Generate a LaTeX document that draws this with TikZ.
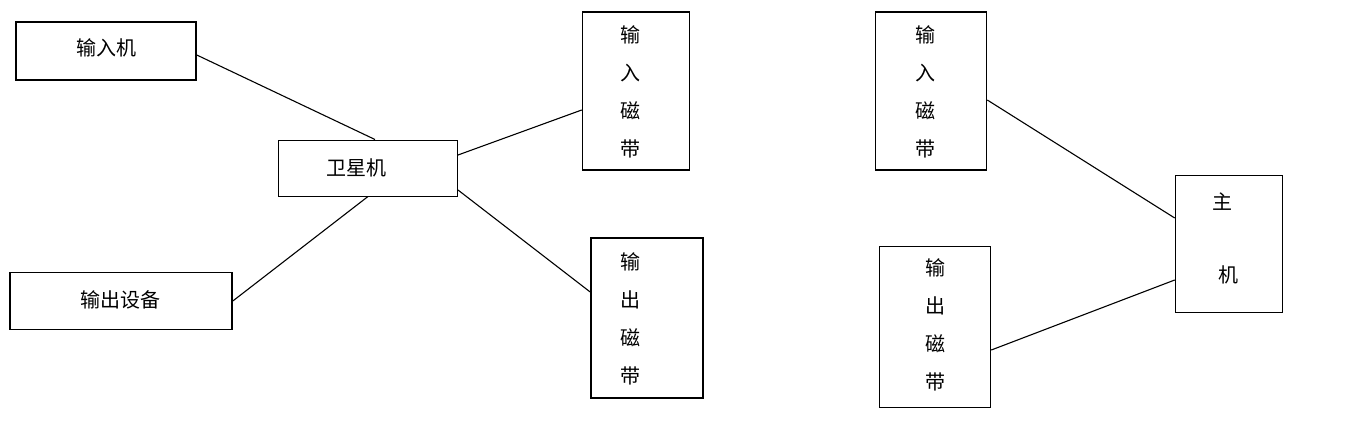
\documentclass[tikz,border=0pt]{standalone}
\usepackage{fontspec}
\setmainfont{Noto Sans CJK SC}[BoldFont={Noto Sans CJK SC Bold}]
\begin{document}
\begin{tikzpicture}[x=1pt,y=-1pt,
 box/.style={draw,line width=1.6pt,inner sep=0pt},
 lbl/.style={font=\fontsize{20}{21}\selectfont,inner sep=0pt},
 conn/.style={line width=1.1pt}]
\useasboundingbox (0,0) rectangle (1350,437);
\node[box,minimum width=180,minimum height=58] (inm) at (106,51) {};
\node[lbl] (inmt) at (106,48) {输入机};
\node[box,minimum width=222,minimum height=57] (out) at (121,301) {};
\node[lbl] (outt) at (120,300) {输出设备};
\node[box,line width=1pt,minimum width=179,minimum height=56] (sat) at (368,168) {};
\node[lbl] (satt) at (356,168) {卫星机};
\node[box,minimum width=107,minimum height=158] (t1) at (636,91) {};
\node[box,minimum width=112,minimum height=160] (t2) at (647,318) {};
\node[box,minimum width=111,minimum height=158] (t3) at (931,91) {};
\node[box,minimum width=111,minimum height=161] (t4) at (935,327) {};
\node[box,minimum width=107,minimum height=137] (host) at (1229,244) {};
\foreach \n/\x/\a/\b/\c/\d/\ya in {t1/630/输/入/磁/带/35, t2/630/输/出/磁/带/262, t3/925/输/入/磁/带/35, t4/935/输/出/磁/带/268}{
  \node[lbl] (\n a) at (\x,\ya) {\a};
  \node[lbl] (\n b) at (\x,\ya+38) {\b};
  \node[lbl] (\n c) at (\x,\ya+76) {\c};
  \node[lbl] (\n d) at (\x,\ya+114) {\d};
}
\node[lbl] (ha) at (1222,202) {主};
\node[lbl] (hb) at (1228,275) {机};
\draw[conn] (inm.east |- 0,55) -- ([xshift=7pt]sat.north);
\draw[conn] (out.east) -- ([xshift=0pt]sat.south);
\draw[conn] (sat.east |- 0,155) -- (t1.west |- 0,110);
\draw[conn] (sat.east |- 0,190) -- (t2.west |- 0,292);
\draw[conn] (t3.east |- 0,100) -- (host.west |- 0,218);
\draw[conn] (t4.east |- 0,350) -- (host.west |- 0,280);
\end{tikzpicture}
\end{document}
